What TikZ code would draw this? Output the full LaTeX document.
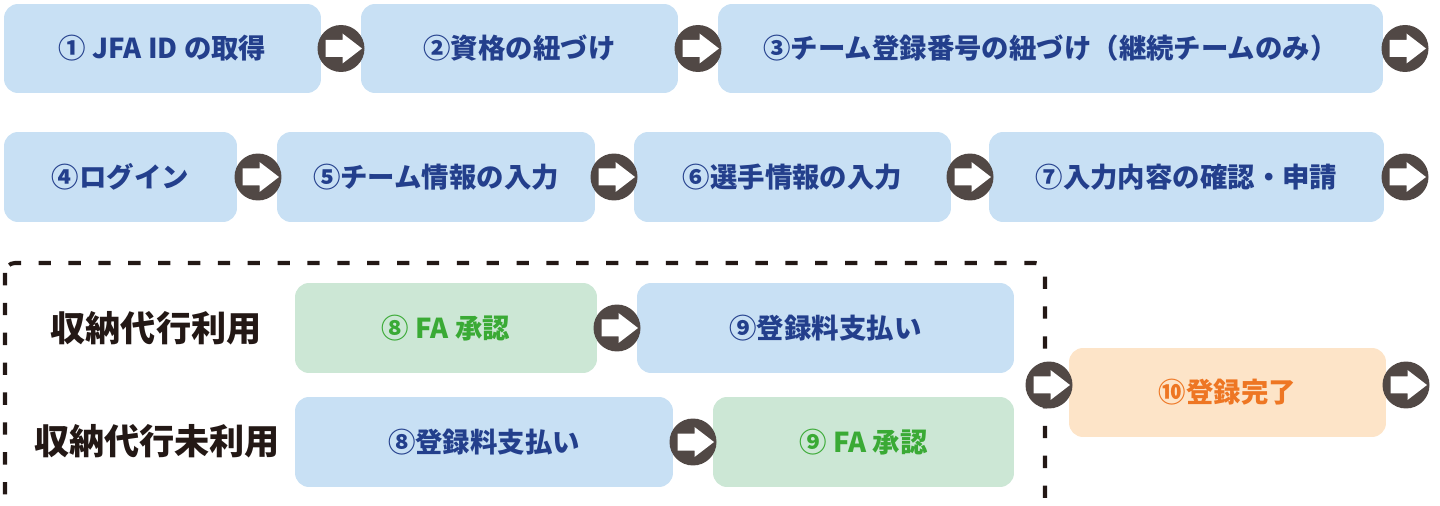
\documentclass[tikz,border=0pt]{standalone}
\usepackage{fontspec}
\setmainfont{Noto Sans CJK JP}[BoldFont={* Black}]
\usepackage{tikz}
\usetikzlibrary{positioning, calc}

\definecolor{boxblue}{HTML}{C8E0F4}
\definecolor{txtblue}{HTML}{233F8C}
\definecolor{boxgreen}{HTML}{CCE7D5}
\definecolor{txtgreen}{HTML}{3AAA35}
\definecolor{boxorange}{HTML}{FDE4C8}
\definecolor{txtorange}{HTML}{EE7623}
\definecolor{arrowgray}{HTML}{514845}
\definecolor{lblblack}{HTML}{231815}

\tikzset{
	stepbox/.style={rounded corners=0.28cm, inner sep=0pt, font=\fontsize{15.6}{15.6}\selectfont\bfseries},
	bluebox/.style={stepbox, fill=boxblue, text=txtblue, minimum height=1.8cm},
	greenbox/.style={stepbox, fill=boxgreen, text=txtgreen, minimum height=1.8cm},
	donebox/.style={stepbox, fill=boxorange, text=txtorange, minimum height=1.78cm},
	nextdot/.style={circle, fill=arrowgray, minimum size=0.94cm, inner sep=0pt,
		path picture={\fill[white, shift={(path picture bounding box.center)}]
			(-15.5,-8.5) -- (1.5,-8.5) -- (1.5,-15) -- (21,0) -- (1.5,15) -- (1.5,8.5) -- (-15.5,8.5) -- cycle;}},
	grouplabel/.style={text=lblblack, font=\fontsize{20}{20}\selectfont\bfseries},
}

\begin{document}
\begin{tikzpicture}[x=0.02cm, y=-0.02cm]
			\useasboundingbox (0,0) rectangle (1440,506);
			
			% row 1
			\node[bluebox, minimum width=6.34cm, minimum height=1.78cm] (jfaid) at (162.5,48.5) {① JFA ID の取得};
			\node[bluebox, minimum width=6.34cm, minimum height=1.78cm] (shikaku) at (519.5,48.5) {②資格の紐づけ};
			\node[bluebox, minimum width=13.3cm, minimum height=1.78cm] (teamno) at (1050.5,48.5) {③チーム登録番号の紐づけ（継続チームのみ）};
			\node[nextdot] (n1) at (341,48.5) {};
			\node[nextdot] (n2) at (698,48.5) {};
			\node[nextdot] (n3) at (1405,48.5) {};
			
			% row 2
			\node[bluebox, minimum width=4.66cm] (login) at (120.5,177) {④ログイン};
			\node[bluebox, minimum width=6.36cm] (teaminfo) at (436,177) {⑤チーム情報の入力};
			\node[bluebox, minimum width=6.34cm] (player) at (792.5,177) {⑥選手情報の入力};
			\node[bluebox, minimum width=7.9cm] (confirm) at (1186.5,177) {⑦入力内容の確認・申請};
			\node[nextdot] (n4) at (258,177) {};
			\node[nextdot] (n5) at (614,177) {};
			\node[nextdot] (n6) at (970,177) {};
			\node[nextdot] (n7) at (1405,177) {};
			
			% row 3
			\draw[lblblack, line width=2.3pt, dash pattern=on 7pt off 10pt, rounded corners=0.2cm]
				(5,263) rectangle (1045,512);
			\node[grouplabel] (daiko) at (156,328) {収納代行利用};
			\node[grouplabel] (midaiko) at (157,441) {収納代行未利用};
			
			\node[greenbox, minimum width=6.04cm] (fa1) at (446,328) {⑧ FA 承認};
			\node[bluebox, minimum width=7.54cm] (pay1) at (825.5,328) {⑨登録料支払い};
			\node[bluebox, minimum width=7.56cm] (pay2) at (484,442) {⑧登録料支払い};
			\node[greenbox, minimum width=6.02cm] (fa2) at (863.5,442) {⑨ FA 承認};
			\node[nextdot] (n8) at (617,328) {};
			\node[nextdot] (n9) at (693,442) {};
			
			\node[donebox, minimum width=6.34cm] (done) at (1227.5,392.5) {⑩登録完了};
			\node[nextdot] (n10) at (1049,385) {};
			\node[nextdot] (n11) at (1406,385) {};
		\end{tikzpicture}
\end{document}
